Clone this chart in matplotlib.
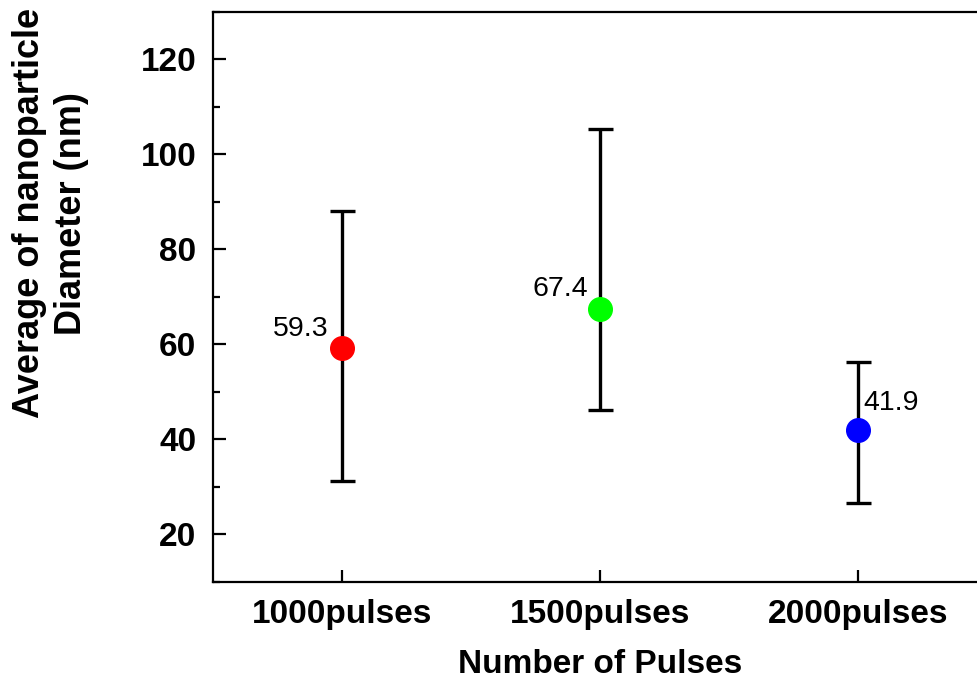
import matplotlib
matplotlib.use("Agg")
import matplotlib.pyplot as plt
from matplotlib.ticker import MultipleLocator

# data
labels = ["1000pulses", "1500pulses", "2000pulses"]
means = [59.3, 67.4, 41.9]
upper = [88.1, 105.4, 56.4]
lower = [31.2, 46.3, 26.7]
colors = ["#ff0000", "#00ff00", "#0000ff"]

plt.rcParams["font.family"] = ["Liberation Sans", "DejaVu Sans"]

fig = plt.figure(figsize=(9.78, 6.83), dpi=100)
ax = fig.add_axes([0.2178, 0.148, 0.792, 0.8345])

xs = [1, 2, 3]
for x, m, u, l, c in zip(xs, means, upper, lower, colors):
    ax.errorbar([x], [m], yerr=[[m - l], [u - m]], fmt="none", ecolor="black",
                elinewidth=2.4, capsize=9, capthick=2.4, zorder=2)
    ax.plot([x], [m], "o", color=c, markersize=17, zorder=3)

# value labels
offsets = [(-9.5, 8.5, "right"), (-9, 9.5, "right"), (3.5, 14.5, "left")]
for x, m, (dx, dy, ha) in zip(xs, means, offsets):
    ax.annotate(f"{m:.1f}", (x, m), xytext=(dx, dy), textcoords="offset points",
                ha=ha, va="baseline", fontsize=20.5)

ax.set_xlim(0.5, 3.5)
ax.set_ylim(10, 130)
ax.set_xticks(xs)
ax.set_xticklabels(labels)
ax.yaxis.set_major_locator(MultipleLocator(20))
ax.yaxis.set_minor_locator(MultipleLocator(10))
ax.set_yticks([20, 40, 60, 80, 100, 120])

ax.tick_params(axis="both", which="major", direction="in", length=9, width=1.6,
               labelsize=24, pad=12)
ax.tick_params(axis="y", which="minor", direction="in", length=5, width=1.6)
for t in ax.get_xticklabels() + ax.get_yticklabels():
    t.set_fontweight("bold")

for s in ax.spines.values():
    s.set_linewidth(1.6)
ax.spines["right"].set_visible(False)

ax.set_xlabel("Number of Pulses", fontsize=24, fontweight="bold", labelpad=14)
ax.set_ylabel("Average of nanoparticle\nDiameter (nm)", fontsize=26,
              fontweight="bold", linespacing=1.25)
ax.yaxis.set_label_coords(-0.16, 0.647)

fig.savefig("out.png", dpi=100)
